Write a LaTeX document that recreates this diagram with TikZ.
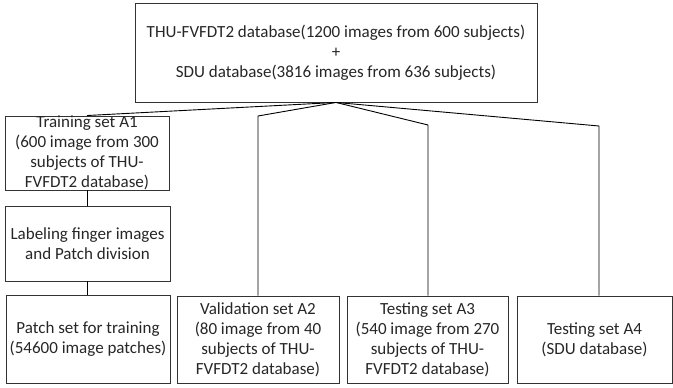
\documentclass[tikz,border=0pt]{standalone}
\usepackage{fontspec}
\setmainfont{Carlito}
\begin{document}
\begin{tikzpicture}[x=1pt,y=-1pt,
  box/.style={draw=black!80, line width=0.9pt, rectangle, inner sep=0pt, align=center,
    font=\fontsize{17}{20}\selectfont, text=black!85},
  link/.style={draw=black, line width=0.9pt}]
\useasboundingbox (0,0) rectangle (673,388);
\node[box, minimum width=402pt, minimum height=99pt] (top) at (336,52.5)
  {THU-FVFDT2 database(1200 images from 600 subjects)\\+\\SDU database(3816 images from 636 subjects)};
\node[box, minimum width=164pt, minimum height=74pt] (train) at (87,153)
  {Training set A1\\(600 image from 300\\subjects of THU-\\FVFDT2 database)};
\node[box, minimum width=165pt, minimum height=75pt] (label) at (87.5,243.5)
  {Labeling finger images\\and Patch division};
\node[box, minimum width=164pt, minimum height=88pt] (patch) at (88,339.5)
  {Patch set for training\\(54600 image patches)};
\node[box, minimum width=162pt, minimum height=87pt] (valid) at (258,339.5)
  {Validation set A2\\(80 image from 40\\subjects of THU-\\FVFDT2 database)};
\node[box, minimum width=161pt, minimum height=87pt] (testa) at (427.5,339.5)
  {Testing set A3\\(540 image from 270\\subjects of THU-\\FVFDT2 database)};
\node[box, minimum width=155pt, minimum height=87pt] (testb) at (594.5,339.5)
  {Testing set A4\\(SDU database)};
\coordinate (c2) at (258,116);
\coordinate (c3) at (428,125);
\coordinate (c4) at (599,126);
\draw[link] (top.south) -- (train.north);
\draw[link] (top.south) -- (c2) -- (c2 |- valid.north);
\draw[link] (top.south) -- (c3) -- (c3 |- testa.north);
\draw[link] (top.south) -- (c4) -- (c4 |- testb.north);
\draw[link] (train.south) -- (label.north -| train.south);
\draw[link] (label.south) -- (patch.north -| label.south);
\end{tikzpicture}
\end{document}
